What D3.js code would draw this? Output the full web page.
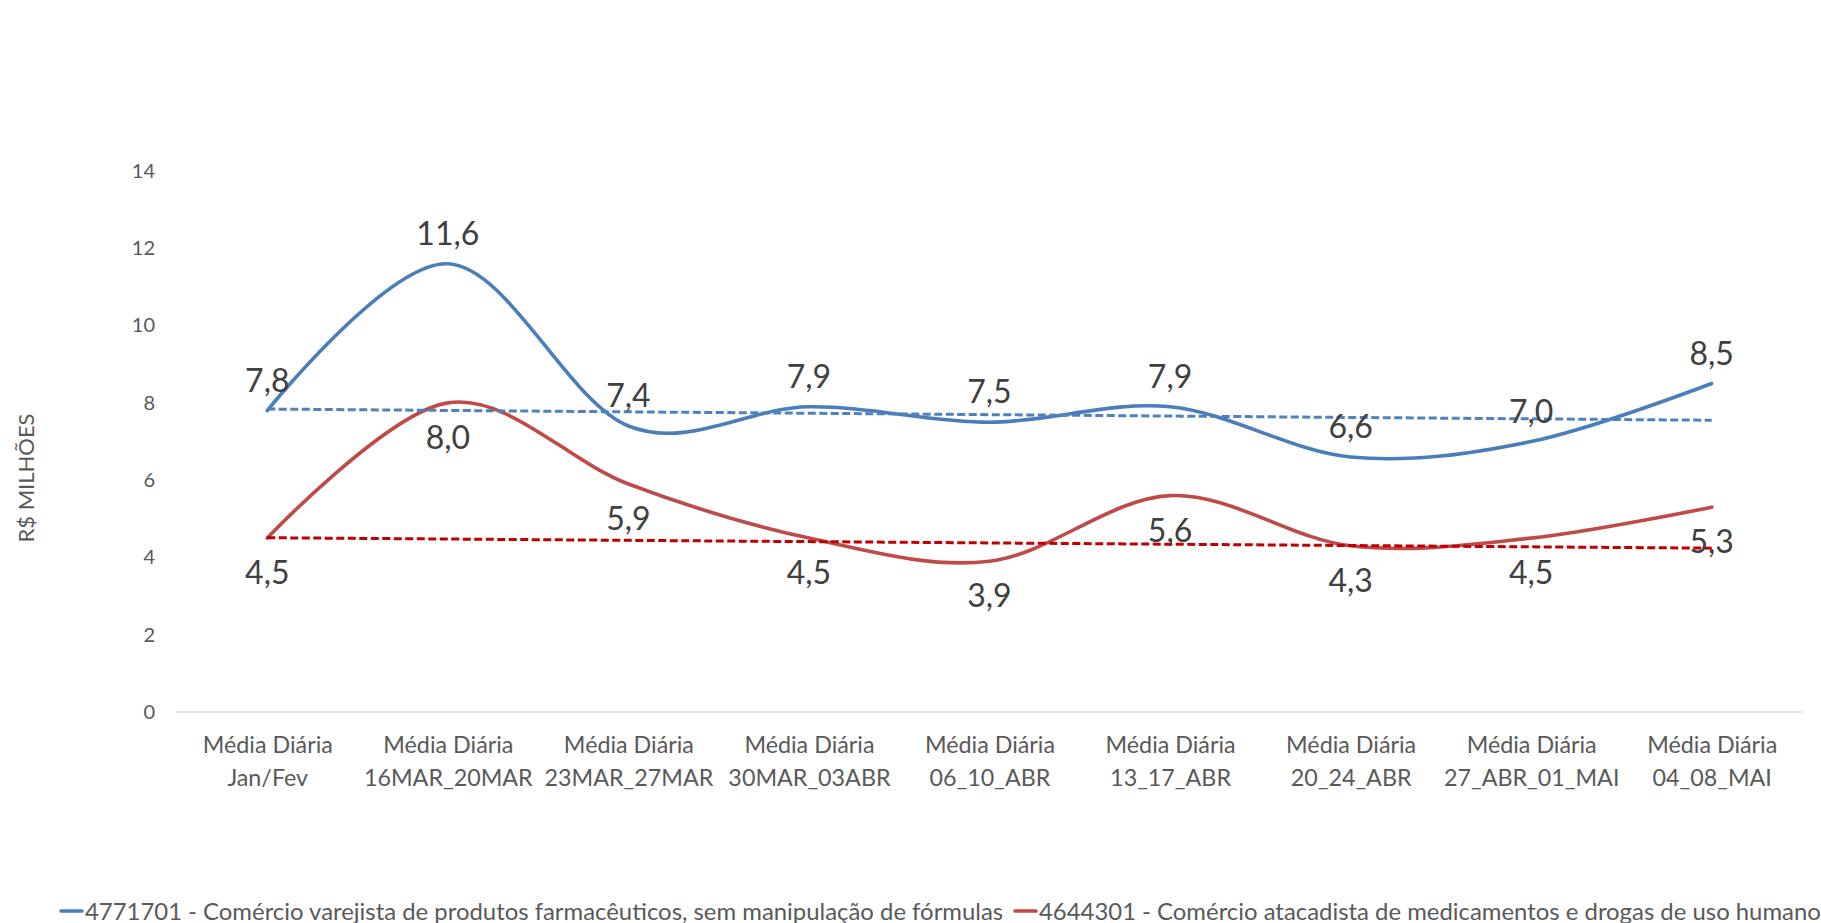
<!DOCTYPE html>
<meta charset="utf-8">
<head>
  <title>Média diária por CNAE</title>
</head>

<style>
body {
  margin: 0;
  background: #fff;
}
text {
  font-family: Lato, "Noto Sans", sans-serif;
}
.tick text {
  fill: #595959;
}
.label {
  fill: #404040;
  font-size: 32px;
}
</style>

<body>
  <svg width="1821" height="923"></svg>

  <script src="https://d3js.org/d3.v7.min.js"></script>
  <script>
var categories = [
  ["Média Diária", "Jan/Fev"],
  ["Média Diária", "16MAR_20MAR"],
  ["Média Diária", "23MAR_27MAR"],
  ["Média Diária", "30MAR_03ABR"],
  ["Média Diária", "06_10_ABR"],
  ["Média Diária", "13_17_ABR"],
  ["Média Diária", "20_24_ABR"],
  ["Média Diária", "27_ABR_01_MAI"],
  ["Média Diária", "04_08_MAI"]
];
var varejo = [7.8, 11.6, 7.4, 7.9, 7.5, 7.9, 6.6, 7.0, 8.5];
var atacado = [4.5, 8.0, 5.9, 4.5, 3.9, 5.6, 4.3, 4.5, 5.3];
// trend lines: value at first and last category
var varejoTrend = [7.84, 7.55];
var atacadoTrend = [4.51, 4.24];
var yTicks = [0, 2, 4, 6, 8, 10, 12, 14];
var seriesNames = [
  "4771701 - Comércio varejista de produtos farmacêuticos, sem manipulação de fórmulas",
  "4644301 - Comércio atacadista de medicamentos e drogas de uso humano"
];

var svg = d3.select('svg');
var keys = categories.map(function(d, i) { return i; });

var x = d3.scalePoint()
  .domain(keys)
  .range([177, 1802])
  .padding(0.5);

var y = d3.scaleLinear()
  .domain([0, 14])
  .range([712, 171]);

// y axis
var yAxis = svg.append('g')
  .attr('transform', 'translate(176,0)')
  .call(d3.axisLeft(y).tickValues(yTicks).tickSize(0).tickPadding(21));
yAxis.select('.domain').remove();
yAxis.selectAll('text')
  .style('font-size', '20px')
  .attr('font-family', null);

svg.append('text')
  .attr('transform', 'translate(34,478) rotate(-90)')
  .attr('text-anchor', 'middle')
  .style('font-size', '22px')
  .style('fill', '#595959')
  .text('R$ MILHÕES');

// x axis
var xAxis = svg.append('g')
  .attr('transform', 'translate(0,712)')
  .call(d3.axisBottom(x).tickSize(0).tickFormat(''));
xAxis.select('.domain')
  .attr('d', 'M177,0H1802')
  .attr('stroke', '#d9d9d9')
  .attr('stroke-width', 1.3);
xAxis.selectAll('.tick text').remove();
xAxis.selectAll('.tick')
  .append('text')
  .attr('text-anchor', 'middle')
  .style('font-size', '23.3px')
  .selectAll('tspan')
  .data(function(d) { return categories[d]; })
  .enter()
  .append('tspan')
  .attr('x', 0)
  .attr('y', function(d, i) { return 41 + i * 33; })
  .text(function(d) { return d; });

// trend lines
function trend(vals, color) {
  svg.append('line')
    .attr('x1', x(keys[0]))
    .attr('x2', x(keys[keys.length - 1]))
    .attr('y1', y(vals[0]))
    .attr('y2', y(vals[1]))
    .attr('stroke', color)
    .attr('stroke-width', 3)
    .attr('stroke-dasharray', '8,3.5');
}

var line = d3.line()
  .x(function(d, i) { return x(i); })
  .y(function(d) { return y(d); })
  .curve(d3.curveCardinal.tension(0));

function series(vals, color) {
  svg.append('path')
    .datum(vals)
    .attr('d', line)
    .attr('fill', 'none')
    .attr('stroke', color)
    .attr('stroke-width', 3.6)
    .attr('stroke-linecap', 'round');
}

series(varejo, '#4a7ebb');
series(atacado, '#be4b48');
trend(varejoTrend, '#4f81bd');
trend(atacadoTrend, '#c00000');

function labels(vals, offset) {
  svg.append('g')
    .selectAll('text')
    .data(vals)
    .enter()
    .append('text')
    .attr('class', 'label')
    .attr('text-anchor', 'middle')
    .attr('x', function(d, i) { return x(i); })
    .attr('y', function(d) { return y(d) + offset; })
    .text(function(d) { return d.toFixed(1).replace('.', ','); });
}
labels(varejo, -19);
labels(atacado, 46);

// legend
var legendItems = [
  {name: seriesNames[0], color: '#4a7ebb', x: 61},
  {name: seriesNames[1], color: '#be4b48', x: 1015}
];
var leg = svg.append('g')
  .selectAll('g')
  .data(legendItems)
  .enter()
  .append('g')
  .attr('transform', function(d) { return 'translate(' + d.x + ',911)'; });
leg.append('line')
  .attr('x1', 0)
  .attr('x2', 21)
  .attr('stroke', function(d) { return d.color; })
  .attr('stroke-width', 3.5)
  .attr('stroke-linecap', 'round');
leg.append('text')
  .attr('x', 24)
  .attr('y', 8.5)
  .style('font-size', '23.9px')
  .style('fill', '#595959')
  .text(function(d) { return d.name; });
  </script>
</body>
</html>
